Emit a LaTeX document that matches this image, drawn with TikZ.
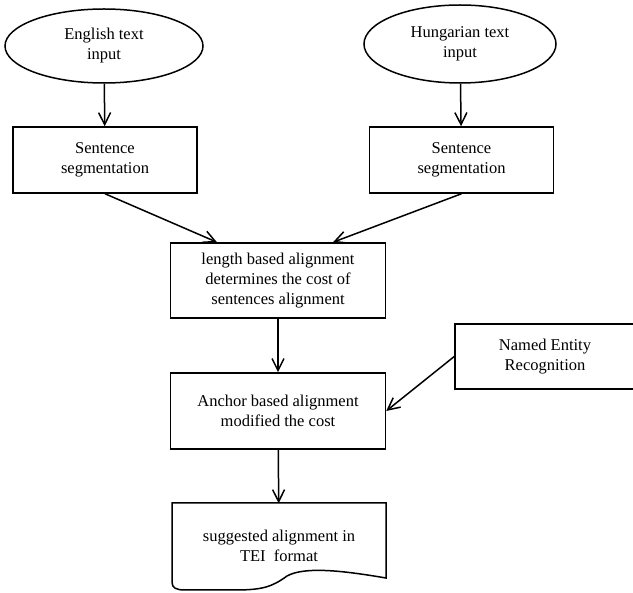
\documentclass[tikz,border=0pt]{standalone}
\usepackage{fontspec}
\setmainfont{Liberation Serif}
\usetikzlibrary{shapes.geometric, arrows.meta}

\tikzset{
  srcnode/.style={draw, ellipse, line width=1.5pt, minimum width=198pt, minimum height=74pt, align=center, inner sep=0pt},
  procbox/.style={draw, rectangle, line width=1.5pt, minimum width=184pt, minimum height=66pt, align=center},
  flow/.style={-{Straight Barb[length=12pt,width=12pt]}, line width=1.5pt},
}

\begin{document}
\begin{tikzpicture}[x=1pt, y=1pt, font=\fontsize{16.5}{20}\selectfont]
\useasboundingbox (0,0) rectangle (633,-593);
\node[srcnode] (en) at (104,-46) {English text\\input};
\node[srcnode, minimum width=192pt, minimum height=78pt] (hu) at (460,-44) {Hungarian text\\input};
\node[procbox] (sen) at (105,-160) {Sentence\\segmentation};
\node[procbox] (shu) at (461.5,-160) {Sentence\\segmentation};
\node[procbox, minimum width=215pt, minimum height=75pt] (len) at (278,-280.5) {length based alignment\\determines the cost of\\sentences alignment};
\node[procbox, minimum width=180pt, minimum height=65pt] (ner) at (545,-356.5) {Named Entity\\Recognition};
\node[procbox, minimum width=215pt, minimum height=76pt] (anc) at (278,-411) {Anchor based alignment\\modified the cost};
\node[align=center, minimum width=214pt, minimum height=85pt] (tei) at (279,-546) {suggested alignment in\\TEI\ \ format};
% document outline
\draw[line width=1.5pt] (172,-503) -- (386,-503) -- (386,-578)
  .. controls (345,-571) and (305,-566) .. (287,-576)
  .. controls (272,-587) and (262,-590) .. (235,-590)
  -- (185,-590) .. controls (176,-590) and (172,-588) .. (172,-582) -- cycle;
\draw[flow] (en) -- (sen);
\draw[flow] (hu) -- (shu);
\draw[flow] (sen.south) -- ([xshift=-61pt]len.north);
\draw[flow] (shu.south) -- ([xshift=55pt]len.north);
\draw[flow] (len) -- (anc);
\draw[flow] (ner.west) -- (anc.east);
\draw[flow] (anc) -- (tei);
\end{tikzpicture}
\end{document}
